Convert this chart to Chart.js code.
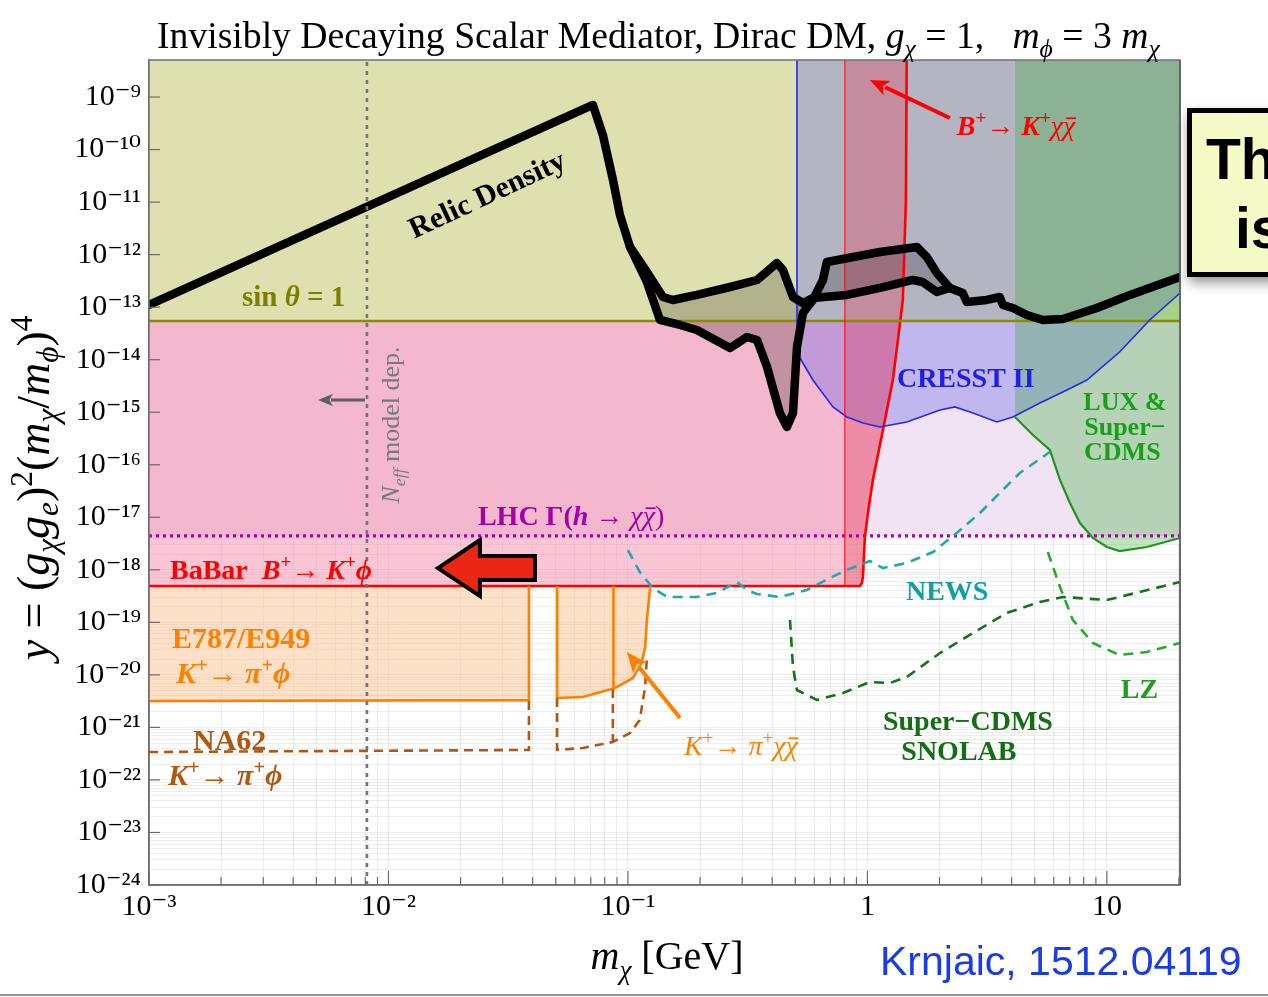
<!DOCTYPE html>
<html><head><meta charset="utf-8">
<script src="https://cdn.jsdelivr.net/npm/chart.js@4.4.1/dist/chart.umd.min.js"></script>
<style>html,body{margin:0;padding:0;background:#fff;} #wrap{width:1268px;height:997px;position:relative;}</style>
</head><body><div id="wrap"><canvas id="c" width="1268" height="997"></canvas></div>
<script>
// ---------- axis ranges & ticks ----------
const xMin = 1e-3, xMax = 20.2, yMin = 1e-24, yMax = 5.07e-9;
const xTickValues = [1e-3, 1e-2, 1e-1, 1, 10];
const xTickLabels = ['10⁻³', '10⁻²', '10⁻¹', '1', '10'];
const yTickValues = [1e-24,1e-23,1e-22,1e-21,1e-20,1e-19,1e-18,1e-17,1e-16,1e-15,1e-14,1e-13,1e-12,1e-11,1e-10,1e-9];
const yTickLabels = ['10⁻²⁴','10⁻²³','10⁻²²','10⁻²¹','10⁻²⁰','10⁻¹⁹','10⁻¹⁸','10⁻¹⁷','10⁻¹⁶','10⁻¹⁵','10⁻¹⁴','10⁻¹³','10⁻¹²','10⁻¹¹','10⁻¹⁰','10⁻⁹'];
const minorMultipliers = [2,3,4,5,6,7,8,9];

// ---------- series ----------
const relicMainX = [0.001,0.0714,0.0786,0.0866,0.0926,0.102,0.120,0.136,0.165,0.194,0.267,0.314,0.346,0.381,0.431,0.461,0.489,0.508,0.538,0.592,0.652,0.677,1.128,1.61,1.77,1.95,2.21,2.50,2.60,3.15,3.57,3.68,4.05,4.63,5.40,6.55,9.08,12.5,20.2];
const relicMainY = [1.1e-13,7.06e-10,1.89e-10,2.64e-11,5.69e-12,1.40e-12,3.01e-13,5.70e-14,4.58e-14,3.67e-14,1.67e-14,2.70e-14,2.37e-14,7.26e-15,9.66e-16,5.24e-16,9.66e-16,1.75e-14,7.74e-14,1.37e-13,3.29e-13,7.24e-13,1.12e-12,1.40e-12,9.02e-13,4.47e-13,2.32e-13,1.86e-13,1.25e-13,1.37e-13,1.56e-13,1.10e-13,9.64e-14,7.10e-14,5.70e-14,5.96e-14,9.64e-14,1.71e-13,3.75e-13];
const relicAltX = [0.102,0.120,0.140,0.154,0.194,0.267,0.346,0.419,0.444,0.489,0.538,0.592,0.821,1.128,1.55,1.70,1.95,2.21];
const relicAltY = [1.40e-12,4.68e-13,1.56e-13,1.37e-13,1.71e-13,2.42e-13,3.29e-13,6.93e-13,5.10e-13,1.56e-13,1.20e-13,1.50e-13,1.71e-13,2.32e-13,3.29e-13,3.01e-13,1.95e-13,2.32e-13];

const sinThetaX = [0.001, 20.2];
const sinThetaY = [5.46e-14, 5.46e-14];
const lhcX = [0.001, 20.2];
const lhcY = [4.41e-18, 4.41e-18];

const babarX = [0.001,0.930,0.948,0.958,0.976,1.005,1.054,1.161,1.277,1.341,1.406,1.448,1.459];
const babarY = [4.92e-19,4.92e-19,5.61e-19,7.30e-19,4.22e-18,1.21e-17,5.13e-17,4.59e-16,4.10e-15,2.37e-14,1.37e-13,1.10e-11,5.07e-9];
const bkxxX = [0.805,0.805,0.930,0.948,0.958,0.976,1.005,1.054,1.161,1.277,1.341,1.406,1.448,1.459];
const bkxxY = [5.07e-9,4.92e-19,4.92e-19,5.61e-19,7.30e-19,4.22e-18,1.21e-17,5.13e-17,4.59e-16,4.10e-15,2.37e-14,1.37e-13,1.10e-11,5.07e-9];

const cresstX = [0.508,0.508,0.592,0.718,0.821,0.958,1.128,1.46,2.01,2.32,2.76,3.47,4.05,5.25,6.81,8.25,11.3,15.1,20.2];
const cresstY = [5.07e-9,1.34e-14,4.10e-15,1.26e-15,8.11e-16,6.24e-16,5.24e-16,6.52e-16,1.10e-15,1.26e-15,9.66e-16,6.52e-16,8.11e-16,1.50e-15,2.65e-15,4.10e-15,1.40e-14,5.70e-14,1.86e-13];
const luxX = [4.13,4.13,4.91,5.78,6.37,7.01,7.72,8.74,10.0,11.3,14.7,20.2];
const luxY = [5.07e-9,8.11e-16,3.69e-16,1.91e-16,5.13e-17,1.87e-17,7.78e-18,4.04e-18,2.72e-18,2.28e-18,2.72e-18,4.04e-18];

const newsX = [0.100,0.112,0.127,0.146,0.194,0.235,0.285,0.314,0.346,0.431,0.559,0.697,0.821,1.024,1.161,1.46,1.88,2.36,2.95,3.57,4.33,5.78];
const newsY = [2.38e-18,9.10e-19,4.51e-19,3.04e-19,3.04e-19,3.62e-19,5.86e-19,4.13e-19,3.47e-19,3.04e-19,4.13e-19,6.98e-19,9.93e-19,1.47e-18,1.08e-18,1.35e-18,2.18e-18,5.02e-18,1.21e-17,2.90e-17,6.97e-17,1.75e-16];
const snolabX = [0.475,0.489,0.508,0.615,0.790,1.024,1.241,1.46,2.01,2.76,3.82,5.25,6.55,10.0,13.7,20.2];
const snolabY = [1.11e-19,1.41e-20,5.15e-21,3.33e-21,4.52e-21,7.31e-21,7.0e-21,9.12e-21,2.61e-20,6.27e-20,1.51e-19,2.44e-19,3.04e-19,2.66e-19,3.78e-19,5.86e-19];
const lzX = [5.67,6.37,7.21,8.74,11.3,14.7,20.2];
const lzY = [2.18e-18,4.71e-19,1.11e-19,4.05e-20,2.39e-20,2.73e-20,4.05e-20];

const e787X = [0.001,0.0386,0.0386,0.045,0.0506,0.0506,0.0649,0.0883,0.105,0.114,0.118,0.120,0.124];
const e787Y = [3.18e-21,3.30e-21,4.92e-19,null,4.92e-19,3.63e-21,3.79e-21,5.62e-21,8.72e-21,1.68e-20,3.40e-20,1.11e-19,4.92e-19];
const e787SplitX = [0.087,0.087];
const e787SplitY = [5.4e-21,4.92e-19];
const na62X = [0.001,0.0386,0.0386,0.045,0.0506,0.0506,0.0649,0.0865,0.102,0.112,0.118,0.120];
const na62Y = [3.40e-22,3.72e-22,3.30e-21,null,3.63e-21,3.72e-22,4.06e-22,5.28e-22,7.83e-22,1.38e-21,5.88e-21,2.19e-20];
const na62SplitX = [0.0865,0.0865];
const na62SplitY = [5.4e-21,5.28e-22];
const neffX = [0.00813,0.00813];
const neffY = [1e-24,5.07e-9];

// ---------- helpers ----------
const pts = (xs, ys) => xs.map((x, i) => ({x, y: ys[i]}));
function ds(label, xs, ys, o) {
  return Object.assign({label, data: pts(xs, ys), pointRadius: 0, borderWidth: 2, fill: false, order: 50}, o);
}
const SERIF = '"Liberation Serif","Times New Roman","DejaVu Serif",serif';
const SANS = '"Liberation Sans",Arial,Helvetica,sans-serif';

const dsLHC = ds('LHC Γ(h→χχ̄)', lhcX, lhcY, {fill:'end', backgroundColor:'rgb(241,227,243)', borderColor:'rgb(170,0,175)', borderWidth:3.2, borderDash:[3,4], order:100});
const dsBaBar = ds('BaBar B⁺→K⁺ϕ', babarX, babarY, {fill:'end', backgroundColor:'rgba(245,140,170,0.5)', borderColor:'rgb(255,0,0)', borderWidth:2.6, order:95});
const dsE787 = ds('E787/E949 K⁺→π⁺ϕ', e787X, e787Y, {fill:{value:4.92e-19}, backgroundColor:'rgba(250,195,145,0.5)', borderColor:'rgb(255,128,0)', borderWidth:2.6, order:90, spanGaps:false});
const dsSin = ds('sin θ = 1', sinThetaX, sinThetaY, {fill:'end', backgroundColor:'rgb(223,224,176)', borderColor:'rgb(140,140,0)', borderWidth:2.6, order:85});
const dsCresst = ds('CRESST II', cresstX, cresstY, {fill:'end', backgroundColor:'rgba(100,100,233,0.35)', borderColor:'rgb(40,40,230)', borderWidth:1.6, order:80});
const dsLux = ds('LUX & Super-CDMS', luxX, luxY, {fill:'end', backgroundColor:'rgba(47,171,43,0.3)', borderColor:'rgb(30,150,30)', borderWidth:2.2, order:75,
  segment:{borderColor: c => c.p0DataIndex === 0 ? 'rgba(0,0,0,0)' : undefined}});
const dsBkxx = ds('B⁺→K⁺χχ̄', bkxxX, bkxxY, {fill:'end', backgroundColor:'rgba(230,60,90,0.35)', borderColor:'rgba(255,0,0,0.85)', borderWidth:1.2, order:70,
  segment:{borderColor: c => c.p0DataIndex === 0 ? 'rgba(255,0,0,0.85)' : 'rgba(0,0,0,0)'}});
const dsRelicAlt = ds('Relic Density (alt)', relicAltX, relicAltY, {backgroundColor:'rgba(0,0,0,0.2)', borderColor:'#000', borderWidth:8.5, borderJoinStyle:'round', borderCapStyle:'round', order:65});
const dsRelic = ds('Relic Density', relicMainX, relicMainY, {borderColor:'#000', borderWidth:8.5, borderJoinStyle:'round', borderCapStyle:'round', order:60});
const dsNews = ds('NEWS', newsX, newsY, {borderColor:'rgb(30,170,170)', borderWidth:2.6, borderDash:[10,7], order:50});
const dsSnolab = ds('Super-CDMS SNOLAB', snolabX, snolabY, {borderColor:'rgb(20,115,20)', borderWidth:2.6, borderDash:[10,7], order:50});
const dsLz = ds('LZ', lzX, lzY, {borderColor:'rgb(40,170,40)', borderWidth:2.6, borderDash:[10,7], order:50});
const dsE787Split = ds('E787 split', e787SplitX, e787SplitY, {borderColor:'rgb(255,128,0)', borderWidth:2.6, order:50});
const dsNa62 = ds('NA62 K⁺→π⁺ϕ', na62X, na62Y, {borderColor:'rgb(175,88,15)', borderWidth:2.6, borderDash:[9,6], order:50, spanGaps:false});
const dsNa62Split = ds('NA62 split', na62SplitX, na62SplitY, {borderColor:'rgb(175,88,15)', borderWidth:2.6, borderDash:[9,6], order:50});
const dsNeff = ds('Neff model dep.', neffX, neffY, {borderColor:'rgb(115,115,125)', borderWidth:2.6, borderDash:[4,5], order:50});

const datasets = [dsLHC, dsBaBar, dsE787, dsSin, dsCresst, dsLux, dsBkxx, dsRelicAlt, dsRelic, dsNews, dsSnolab, dsLz, dsE787Split, dsNa62, dsNa62Split, dsNeff];
dsRelicAlt.fill = datasets.indexOf(dsRelic);

// ---------- annotations (anchored in data coordinates) ----------
const labels = [
  {x:0.0268, y:9.62e-12, rot:-25, align:'center', size:30, color:'#000', segs:[['Relic Density','b']]},
  {x:2.445e-3, y:1.05e-13, size:29, color:'rgb(125,125,0)', segs:[['sin ','b'],['θ','bi'],[' = 1','b']]},
  {x:0.01106, y:5.71e-16, rot:-90, align:'center', size:26, color:'rgb(120,120,128)', segs:[['N','i'],['eff','i_'],[' model dep.','']]},
  {x:0.02364, y:7.13e-18, size:28, color:'rgb(165,0,165)', segs:[['LHC Γ(','b'],['h','bi'],[' → ','b'],['χ','i'],['χ','io'],[')','']]},
  {x:1.224e-3, y:6.68e-19, size:28, color:'rgb(255,0,0)', segs:[['BaBar  ','b'],['B','bi'],['+','b^'],['→ ','b'],['K','bi'],['+','b^'],['ϕ','bi']]},
  {x:1.247e-3, y:3.25e-20, size:30, color:'rgb(255,128,0)', segs:[['E787/E949','b']]},
  {x:1.296e-3, y:7.0e-21, size:30, color:'rgb(255,128,0)', segs:[['K','bi'],['+','b^'],['→ ','b'],['π','bi'],['+','b^'],['ϕ','bi']]},
  {x:1.527e-3, y:3.72e-22, size:30, color:'rgb(175,88,15)', segs:[['NA62','b']]},
  {x:1.2e-3, y:8.02e-23, size:30, color:'rgb(175,88,15)', segs:[['K','bi'],['+','b^'],['→ ','b'],['π','bi'],['+','b^'],['ϕ','bi']]},
  {x:0.1714, y:2.99e-22, size:28, color:'rgb(255,128,0)', segs:[['K','i'],['+','^'],['→ ',''],['π','i'],['+','^'],['χ','i'],['χ','io']]},
  {x:1.328, y:3.02e-15, size:28, color:'rgb(30,30,230)', segs:[['CRESST II','b']]},
  {x:11.89, y:1.10e-15, align:'center', size:26, color:'rgb(25,160,25)', segs:[['LUX &','b']]},
  {x:11.89, y:3.69e-16, align:'center', size:26, color:'rgb(25,160,25)', segs:[['Super−','b']]},
  {x:11.6, y:1.23e-16, align:'center', size:26, color:'rgb(25,160,25)', segs:[['CDMS','b']]},
  {x:1.448, y:2.66e-19, size:28, color:'rgb(20,160,160)', segs:[['NEWS','b']]},
  {x:2.628, y:8.93e-22, align:'center', size:28, color:'rgb(20,110,20)', segs:[['Super−CDMS','b']]},
  {x:2.41, y:2.40e-22, align:'center', size:28, color:'rgb(20,110,20)', segs:[['SNOLAB','b']]},
  {x:11.44, y:3.63e-21, size:28, color:'rgb(30,160,30)', segs:[['LZ','b']]},
  {x:2.36, y:1.89e-10, size:28, color:'rgb(255,0,0)', segs:[['B','bi'],['+','b^'],['→ ','b'],['K','bi'],['+','b^'],['χ','i'],['χ','io']]}
];
const arrows = [
  {x1:7.98e-3, y1:1.71e-15, x2:5.08e-3, y2:1.71e-15, color:'rgb(95,95,95)', w:3, head:15},
  {x1:2.21, y1:3.99e-10, x2:1.024, y2:2.11e-9, color:'rgb(255,0,0)', w:4, head:19},
  {x1:0.165, y1:1.51e-21, x2:0.099, y2:2.73e-20, color:'rgb(255,128,0)', w:4, head:21}
];
const blockArrow = {tipX:0.01609, tailX:0.0409, y:1.08e-18};

// ---------- rich text ----------
function fontFor(f, size, fam) {
  const it = f.includes('i') ? 'italic ' : '';
  const bd = f.includes('b') ? 'bold ' : '';
  const small = f.includes('_') || f.includes('^');
  return `${it}${bd}${small ? size*0.68 : size}px ${fam || SERIF}`;
}
function measureRich(ctx, segs, size, fam) {
  let w = 0;
  for (const [t, f] of segs) { ctx.font = fontFor(f, size, fam); w += ctx.measureText(t).width; }
  return w;
}
function drawRich(ctx, segs, x, y, size, color, align, fam, subOff) {
  const w = measureRich(ctx, segs, size, fam);
  let cx = align === 'center' ? x - w/2 : (align === 'right' ? x - w : x);
  ctx.fillStyle = color; ctx.textAlign = 'left'; ctx.textBaseline = 'alphabetic';
  for (const [t, f] of segs) {
    ctx.font = fontFor(f, size, fam);
    const dy = f.includes('_') ? size*(subOff || 0.24) : (f.includes('^') ? -size*0.38 : 0);
    ctx.fillText(t, cx, y + dy);
    const tw = ctx.measureText(t).width;
    if (f.includes('o')) {
      ctx.strokeStyle = color; ctx.lineWidth = Math.max(1.5, size*0.06);
      ctx.beginPath(); ctx.moveTo(cx + tw*0.25, y - size*0.6); ctx.lineTo(cx + tw*1.05, y - size*0.6); ctx.stroke();
    }
    cx += tw;
  }
  return w;
}
function drawArrow(ctx, x1, y1, x2, y2, color, w, head) {
  const a = Math.atan2(y2 - y1, x2 - x1);
  const bx = x2 - head*Math.cos(a), by = y2 - head*Math.sin(a);
  ctx.strokeStyle = color; ctx.fillStyle = color; ctx.lineWidth = w; ctx.lineCap = 'butt';
  ctx.beginPath(); ctx.moveTo(x1, y1); ctx.lineTo(bx + 2*Math.cos(a), by + 2*Math.sin(a)); ctx.stroke();
  const hw = head*0.42;
  ctx.beginPath();
  ctx.moveTo(x2, y2);
  ctx.lineTo(bx + hw*Math.sin(a), by - hw*Math.cos(a));
  ctx.lineTo(bx + head*0.25*Math.cos(a), by + head*0.25*Math.sin(a));
  ctx.lineTo(bx - hw*Math.sin(a), by + hw*Math.cos(a));
  ctx.closePath(); ctx.fill();
}

const overlayPlugin = {
  id: 'overlay',
  afterDraw(chart) {
    const ctx = chart.ctx, xs = chart.scales.x, ys = chart.scales.y, A = chart.chartArea;
    const px = v => xs.getPixelForValue(v), py = v => ys.getPixelForValue(v);
    ctx.save();
    // frame and inward ticks
    ctx.strokeStyle = '#707070'; ctx.lineWidth = 1.5;
    ctx.strokeRect(A.left, A.top, A.right - A.left, A.bottom - A.top);
    ctx.strokeStyle = '#505050'; ctx.lineWidth = 1.2;
    ctx.beginPath(); ctx.moveTo(A.right, A.top); ctx.lineTo(A.right, A.bottom); ctx.stroke();
    ctx.strokeStyle = '#6a6a6a'; ctx.lineWidth = 1.2;
    for (const v of yTickValues) { const y = py(v); ctx.beginPath(); ctx.moveTo(A.left, y); ctx.lineTo(A.left + 11, y); ctx.stroke(); }
    for (const d of xTickValues) for (const m of [1, ...minorMultipliers]) {
      const v = d*m; if (v > xMax) continue;
      const x = px(v), len = m === 1 ? 14 : 8;
      ctx.beginPath(); ctx.moveTo(x, A.bottom); ctx.lineTo(x, A.bottom - len); ctx.stroke();
    }
    // block arrow
    {
      const tx = px(blockArrow.tipX), ex = px(blockArrow.tailX), y = py(blockArrow.y);
      const hx = tx + 42;
      ctx.beginPath();
      ctx.moveTo(tx, y); ctx.lineTo(hx, y - 28); ctx.lineTo(hx, y - 12); ctx.lineTo(ex, y - 12);
      ctx.lineTo(ex, y + 12); ctx.lineTo(hx, y + 12); ctx.lineTo(hx, y + 28); ctx.closePath();
      ctx.fillStyle = 'rgb(235,38,20)'; ctx.fill();
      ctx.lineWidth = 4; ctx.strokeStyle = '#000'; ctx.lineJoin = 'miter'; ctx.stroke();
    }
    // arrows
    for (const a of arrows) drawArrow(ctx, px(a.x1), py(a.y1), px(a.x2), py(a.y2), a.color, a.w, a.head);
    // labels
    for (const L of labels) {
      ctx.save();
      ctx.translate(px(L.x), py(L.y));
      if (L.rot) ctx.rotate(L.rot*Math.PI/180);
      drawRich(ctx, L.segs, 0, 0, L.size, L.color, L.align || 'left');
      ctx.restore();
    }
    // title (fit to the plot width span)
    const titleSegs = [['Invisibly Decaying Scalar Mediator, Dirac DM, ',''],['g','i'],['χ','i_'],[' = 1,   ',''],['m','i'],['ϕ','i_'],[' = 3 ',''],['m','i'],['χ','i_']];
    const tw = measureRich(ctx, titleSegs, 30);
    const ts = 30 * 1003 / tw;
    drawRich(ctx, titleSegs, 157, 48, ts, '#000', 'left');
    // axis titles
    drawRich(ctx, [['m','i'],['χ','i_'],[' [GeV]','']], 667, 969, 40, '#000', 'center');
    ctx.save(); ctx.translate(49, 488); ctx.rotate(-Math.PI/2);
    drawRich(ctx, [['y','i'],[' = (',''],['g','i'],['χ','i_'],['g','i'],['e','i_'],[')',''],['2','^'],['(',''],['m','i'],['χ','i_'],['/',''],['m','i'],['ϕ','i_'],[')',''],['4','^']], 0, 0, 46, '#000', 'center', SERIF, 0.2);
    ctx.restore();
    // credit
    drawRich(ctx, [['Krnjaic, 1512.04119','']], 880, 975, 41, 'rgb(25,60,235)', 'left', SANS);
    // side box
    ctx.save();
    ctx.shadowColor = 'rgba(0,0,0,0.45)'; ctx.shadowBlur = 12; ctx.shadowOffsetX = 2; ctx.shadowOffsetY = 6;
    ctx.fillStyle = 'rgb(246,250,198)'; ctx.fillRect(1187, 108, 120, 168);
    ctx.restore();
    ctx.lineWidth = 5; ctx.strokeStyle = '#000'; ctx.strokeRect(1189.5, 110.5, 120, 164);
    drawRich(ctx, [['Th','b']], 1206, 179, 57, '#000', 'left', SANS);
    drawRich(ctx, [['is','b']], 1235, 248, 57, '#000', 'left', SANS);
    // slide bottom rule
    ctx.strokeStyle = 'rgb(150,150,150)'; ctx.lineWidth = 2;
    ctx.beginPath(); ctx.moveTo(0, 995); ctx.lineTo(1268, 995); ctx.stroke();
    ctx.restore();
  }
};

function tickLabel(values, labelsArr) {
  return (v) => {
    for (let i = 0; i < values.length; i++) if (Math.abs(v/values[i] - 1) < 1e-6) return labelsArr[i];
    return '';
  };
}
function gridTicks(decades, max) {
  const t = [];
  for (const d of decades) for (const m of [1, ...minorMultipliers]) { const v = d*m; if (v <= max*1.0001) t.push({value: v}); }
  return t;
}

new Chart(document.getElementById('c'), {
  type: 'line',
  data: {datasets},
  plugins: [overlayPlugin],
  options: {
    responsive: false, animation: false, devicePixelRatio: 1,
    layout: {padding: {top: 60, right: 88, left: 0, bottom: 0}},
    plugins: {legend: {display: false}, tooltip: {enabled: false}, title: {display: false}, filler: {drawTime: 'beforeDatasetsDraw'}},
    elements: {point: {radius: 0}, line: {tension: 0}},
    scales: {
      x: {
        type: 'logarithmic', min: xMin, max: xMax, bounds: 'data', z: 1,
        afterBuildTicks: s => { s.ticks = gridTicks(xTickValues, xMax); },
        afterFit: s => { s.height = 112; },
        ticks: {autoSkip: false, maxRotation: 0, padding: 4, color: '#000', font: {family: SERIF, size: 30}, callback: tickLabel(xTickValues, xTickLabels)},
        grid: {color: 'rgba(0,0,0,0.07)', drawTicks: false},
        border: {color: '#707070', width: 1.5}
      },
      y: {
        type: 'logarithmic', min: yMin, max: yMax, bounds: 'data', z: 1,
        afterBuildTicks: s => { s.ticks = gridTicks(yTickValues, yMax); },
        afterFit: s => { s.width = 149; },
        ticks: {autoSkip: false, padding: 8, color: '#000', font: {family: SERIF, size: 30}, callback: tickLabel(yTickValues, yTickLabels)},
        grid: {color: 'rgba(0,0,0,0.07)', drawTicks: false},
        border: {color: '#707070', width: 1.5}
      }
    }
  }
});
</script></body></html>
